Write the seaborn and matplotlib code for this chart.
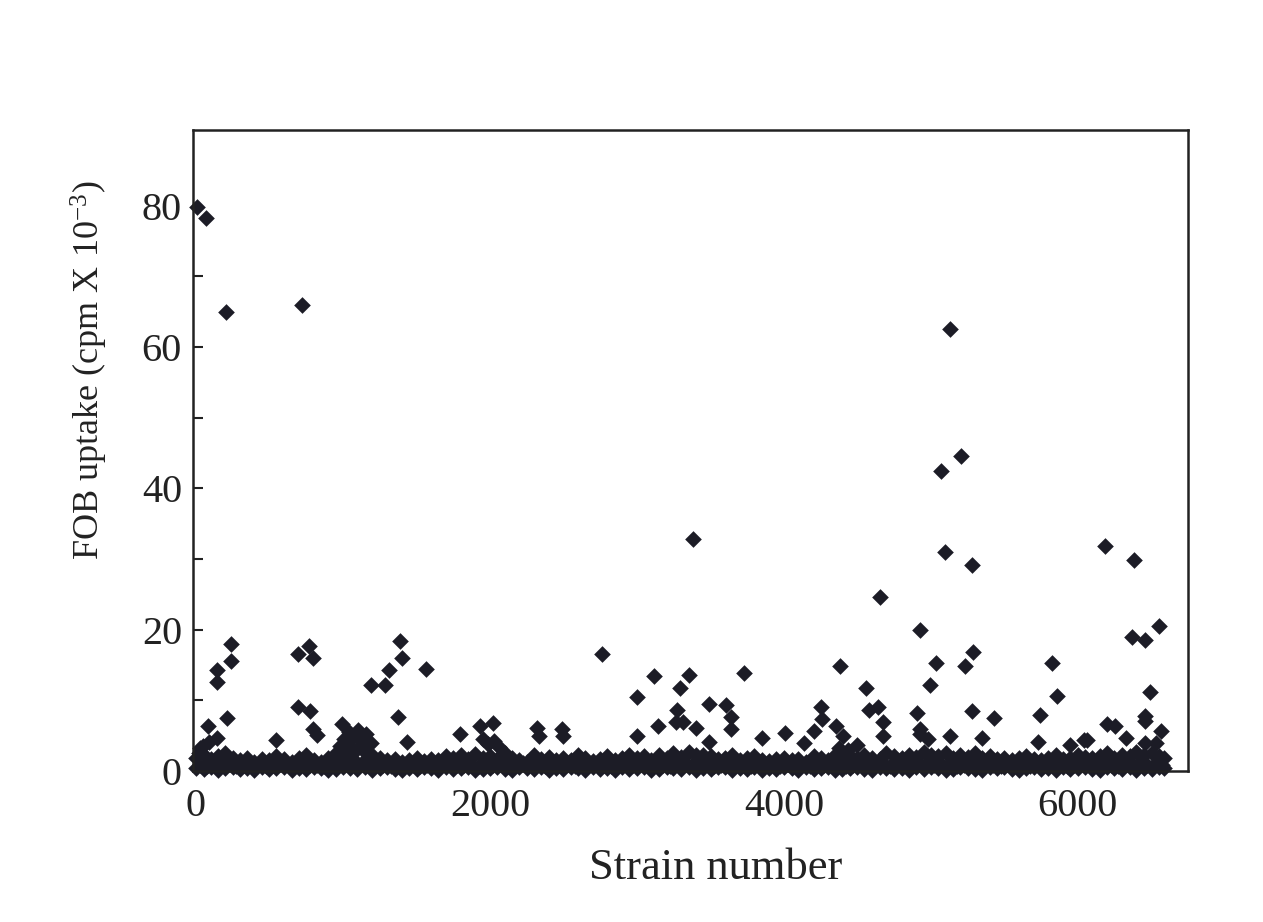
import pandas as pd
import matplotlib.pyplot as plt
import numpy as np
import seaborn as sns

# isolated strains above the background band (strain number, uptake)
peak_strain = [5, 68, 205, 724, 3380,
               5129, 5208, 5067, 5099, 5283, 6187, 6380,
               4651, 4928, 6555, 6369, 6455,
               237, 241, 141, 141, 692, 771, 794, 1192, 1283, 1313, 1386, 1401, 1563, 2760,
               696, 776, 209, 82, 994, 794, 824, 544, 141, 89, 1374, 1436, 1800, 1932, 2018,
               3115, 3354, 3292, 3001, 3729, 3492, 3604, 3643, 3643, 3270, 3266, 3311, 3144, 3405,
               3494, 4250, 4257, 4207, 4005, 4134, 2323, 2337, 2489, 2500, 2102, 3001, 3854,
               4384, 5288, 5033, 5236, 5823, 4992, 4560, 5857, 6494, 4582, 4644, 4355, 4400,
               4678, 4906, 5277, 5429, 5743, 6198, 6255, 6455, 6455, 6567, 4673, 4928, 4928,
               4981, 5128, 5350, 5732, 5948, 6063, 6040, 6328, 6455, 6530, 4378, 4440, 4500,
               1010, 1040, 1070, 1100, 1130, 1160, 1190, 1050, 1120, 980, 20, 30, 50,
               1950, 1990, 2030, 2060]
peak_uptake = [79.8, 78.2, 65.0, 66.0, 32.8,
               62.6, 44.6, 42.4, 31.0, 29.1, 31.8, 29.8,
               24.6, 19.9, 20.5, 18.9, 18.5,
               18.0, 15.6, 14.3, 12.6, 16.6, 17.7, 16.0, 12.2, 12.2, 14.3, 18.4, 16.0, 14.5, 16.5,
               9.1, 8.5, 7.5, 6.3, 6.6, 5.9, 5.1, 4.4, 4.6, 4.1, 7.7, 4.1, 5.2, 6.3, 6.8,
               13.4, 13.6, 11.8, 10.5, 13.8, 9.5, 9.3, 7.7, 5.9, 8.6, 7.0, 7.0, 6.3, 6.1,
               4.1, 9.1, 7.3, 5.6, 5.4, 4.0, 6.1, 5.0, 6.0, 5.0, 2.6, 5.0, 4.7,
               14.9, 16.9, 15.3, 14.9, 15.3, 12.2, 11.7, 10.6, 11.2, 8.7, 9.0, 6.4, 5.0,
               6.9, 8.2, 8.5, 7.5, 7.9, 6.7, 6.4, 7.8, 7.1, 5.7, 5.0, 5.9, 5.3,
               4.5, 5.0, 4.7, 4.1, 3.7, 4.4, 4.4, 4.7, 4.0, 4.0, 3.2, 3.0, 3.7,
               4.5, 5.5, 4.8, 5.8, 4.2, 5.2, 4.0, 3.6, 3.4, 3.5, 2.5, 3.2, 3.6,
               4.5, 3.8, 4.2, 3.4]

# dense background band near zero
base_strain = [3, 52, 101, 149, 198, 251, 302, 349, 398, 452,
               500, 548, 601, 653, 699, 748, 802, 851, 899, 950,
               1003, 1049, 1098, 1152, 1201, 1250, 1297, 1352, 1400, 1448,
               1503, 1551, 1598, 1650, 1702, 1749, 1801, 1849, 1898, 1952,
               2000, 2049, 2103, 2150, 2198, 2252, 2301, 2347, 2399, 2452,
               2500, 2551, 2598, 2649, 2703, 2750, 2798, 2851, 2902, 2949,
               3001, 3052, 3098, 3150, 3203, 3249, 3298, 3352, 3400, 3448,
               3502, 3551, 3599, 3648, 3701, 3752, 3799, 3850, 3902, 3948,
               4001, 4053, 4099, 4148, 4202, 4250, 4301, 4349, 4398, 4452,
               4500, 4548, 4603, 4651, 4698, 4750, 4802, 4849, 4901, 4952,
               4999, 5048, 5101, 5153, 5199, 5250, 5302, 5348, 5401, 5449,
               5498, 5552, 5600, 5649, 5703, 5751, 5798, 5850, 5901, 5949,
               6002, 6051, 6098, 6150, 6201, 6249, 6300, 6352, 6399, 6448,
               6502, 6550, 6590]
base_low = [0.4, 0.3, 0.5, 0.2, 0.4, 0.6, 0.3, 0.4, 0.2, 0.5,
            0.3, 0.4, 0.6, 0.2, 0.4, 0.3, 0.5, 0.4, 0.2, 0.3,
            0.5, 0.4, 0.3, 0.6, 0.2, 0.4, 0.5, 0.3, 0.2, 0.4,
            0.3, 0.5, 0.4, 0.2, 0.6, 0.3, 0.4, 0.5, 0.2, 0.3,
            0.4, 0.6, 0.3, 0.2, 0.5, 0.4, 0.3, 0.5, 0.2, 0.4,
            0.3, 0.6, 0.4, 0.2, 0.5, 0.3, 0.4, 0.2, 0.5, 0.3,
            0.4, 0.5, 0.2, 0.3, 0.6, 0.4, 0.3, 0.5, 0.2, 0.4,
            0.3, 0.5, 0.6, 0.2, 0.4, 0.3, 0.5, 0.2, 0.4, 0.3,
            0.5, 0.4, 0.2, 0.6, 0.3, 0.4, 0.5, 0.2, 0.3, 0.4,
            0.6, 0.3, 0.2, 0.5, 0.4, 0.3, 0.4, 0.2, 0.5, 0.3,
            0.6, 0.4, 0.2, 0.3, 0.5, 0.4, 0.3, 0.2, 0.5, 0.4,
            0.6, 0.3, 0.2, 0.4, 0.5, 0.3, 0.4, 0.2, 0.5, 0.3,
            0.4, 0.6, 0.3, 0.2, 0.5, 0.4, 0.3, 0.5, 0.2, 0.4,
            0.3, 0.5, 0.4]
base_top = [1.9, 2.3, 1.7, 2.1, 2.5, 1.8, 1.5, 1.9, 1.3, 1.7,
            1.5, 2.1, 1.7, 1.3, 1.9, 2.3, 1.6, 1.3, 1.8, 2.5,
            2.9, 2.5, 3.1, 2.7, 2.3, 1.9, 1.5, 1.7, 1.3, 1.6,
            1.9, 1.4, 1.7, 1.5, 2.1, 1.8, 2.2, 1.7, 2.4, 1.9,
            2.1, 1.7, 1.5, 1.9, 1.6, 1.3, 2.3, 1.7, 2.0, 1.5,
            1.8, 1.5, 2.3, 1.9, 1.4, 1.7, 2.1, 1.6, 1.9, 2.3,
            1.9, 2.1, 1.6, 2.3, 1.8, 2.5, 2.0, 2.7, 2.2, 2.3,
            2.1, 1.7, 1.9, 2.3, 1.5, 1.8, 2.1, 1.6, 1.4, 1.7,
            1.9, 1.5, 1.7, 1.3, 2.1, 1.8, 1.5, 2.3, 1.9, 2.1,
            1.8, 2.3, 1.9, 1.7, 2.5, 2.1, 1.8, 2.3, 2.0, 2.7,
            2.3, 2.1, 2.6, 1.9, 2.3, 2.0, 2.5, 1.8, 2.1, 1.7,
            1.9, 1.5, 1.8, 2.1, 1.7, 1.5, 1.9, 2.3, 1.7, 1.9,
            2.3, 2.0, 1.8, 2.1, 2.5, 1.9, 2.3, 2.1, 2.7, 2.2,
            2.5, 2.1, 1.9]

mid_strain = [27, 76, 124, 176, 226, 275, 324, 377, 426, 474,
              527, 575, 624, 677, 725, 773, 826, 874, 925, 977,
              1026, 1074, 1127, 1175, 1224, 1276, 1325, 1374, 1427, 1475,
              1526, 1574, 1625, 1677, 1724, 1776, 1825, 1874, 1927, 1975,
              2024, 2077, 2126, 2174, 2225, 2277, 2325, 2374, 2426, 2475,
              2524, 2577, 2625, 2674, 2726, 2775, 2824, 2877, 2925, 2974,
              3027, 3076, 3124, 3177, 3225, 3274, 3326, 3375, 3424, 3477,
              3525, 3574, 3627, 3675, 3724, 3776, 3825, 3874, 3926, 3975,
              4027, 4076, 4124, 4175, 4226, 4275, 4324, 4377, 4425, 4474,
              4526, 4575, 4627, 4674, 4725, 4776, 4824, 4875, 4926, 4974,
              5025, 5077, 5124, 5176, 5225, 5274, 5326, 5375, 5424, 5477,
              5525, 5574, 5626, 5675, 5724, 5777, 5825, 5874, 5925, 5976,
              6026, 6074, 6125, 6177, 6226, 6275, 6324, 6376, 6425, 6474,
              6526, 6572]
mid_uptake = [0.9, 0.7, 1.0, 0.8, 1.1, 0.7, 0.9, 0.8, 1.0, 0.7,
              0.9, 1.1, 0.8, 0.7, 1.0, 0.9, 0.8, 0.7, 1.0, 1.1,
              1.3, 1.5, 1.2, 1.4, 1.0, 0.9, 0.7, 0.8, 1.0, 0.9,
              0.7, 0.9, 0.8, 1.0, 1.1, 0.9, 0.8, 1.0, 0.7, 0.9,
              0.8, 1.0, 0.7, 0.9, 1.1, 0.8, 1.0, 0.7, 0.9, 0.8,
              1.0, 0.7, 0.9, 0.8, 1.1, 0.9, 0.7, 1.0, 0.8, 0.9,
              1.1, 0.8, 1.0, 0.9, 0.7, 1.0, 1.1, 0.9, 0.8, 1.0,
              0.7, 0.9, 0.8, 1.0, 0.9, 0.7, 1.1, 0.8, 0.9, 0.7,
              1.0, 0.8, 0.9, 0.7, 1.0, 0.9, 0.8, 1.1, 0.7, 0.9,
              1.0, 0.8, 0.9, 1.1, 0.7, 1.0, 0.9, 0.8, 1.0, 1.1,
              0.9, 0.8, 1.0, 0.7, 0.9, 1.1, 0.8, 1.0, 0.9, 0.7,
              1.0, 0.8, 0.9, 0.7, 1.1, 0.9, 0.8, 1.0, 0.7, 0.9,
              1.1, 0.9, 0.8, 1.0, 0.9, 0.7, 1.0, 0.9, 1.1, 0.8,
              1.0, 0.9]

df = pd.concat([
    pd.DataFrame({"strain": peak_strain, "uptake": peak_uptake}),
    pd.DataFrame({"strain": base_strain, "uptake": base_low}),
    pd.DataFrame({"strain": mid_strain, "uptake": mid_uptake}),
    pd.DataFrame({"strain": base_strain, "uptake": base_top}),
], ignore_index=True)

sns.set_style("ticks")
plt.rcParams["font.family"] = ["Liberation Serif", "DejaVu Serif"]
plt.rcParams["mathtext.fontset"] = "custom"
plt.rcParams["mathtext.rm"] = "Liberation Serif"
plt.rcParams["mathtext.it"] = "Liberation Serif:italic"

fig = plt.figure(figsize=(12.63, 9.22), dpi=100)
ax = fig.add_axes([193/1263, 1-771/922, (1188-193)/1263, (771-130)/922])

sns.scatterplot(data=df, x="strain", y="uptake", marker="D", s=72,
                color="#1c1c26", linewidth=0, clip_on=False, ax=ax)

ax.set_xlim(-20, 6750)
ax.set_ylim(0, 90.7)
ax.set_xticks([0, 2000, 4000, 6000])
ax.set_yticks([0, 20, 40, 60, 80])
ax.set_yticks([10, 30, 50, 70], minor=True)
ax.tick_params(axis="both", which="both", direction="in", colors="#222222",
               labelcolor="#222222", labelsize=29, width=1.5)
ax.tick_params(axis="y", which="major", length=7, pad=8)
ax.tick_params(axis="y", which="minor", length=7)
ax.tick_params(axis="x", which="major", length=6, pad=12)
for sp in ax.spines.values():
    sp.set_linewidth(1.8)
    sp.set_color("#222222")

ax.set_xlabel("Strain number", fontsize=32, color="#222222")
ax.set_ylabel("FOB uptake (cpm X 10$^{-3}$)", fontsize=26, color="#222222")
ax.xaxis.set_label_coords(0.5256, -0.12)
ax.yaxis.set_label_coords(-0.083, 0.626)

fig.savefig("out.png", dpi=100)
